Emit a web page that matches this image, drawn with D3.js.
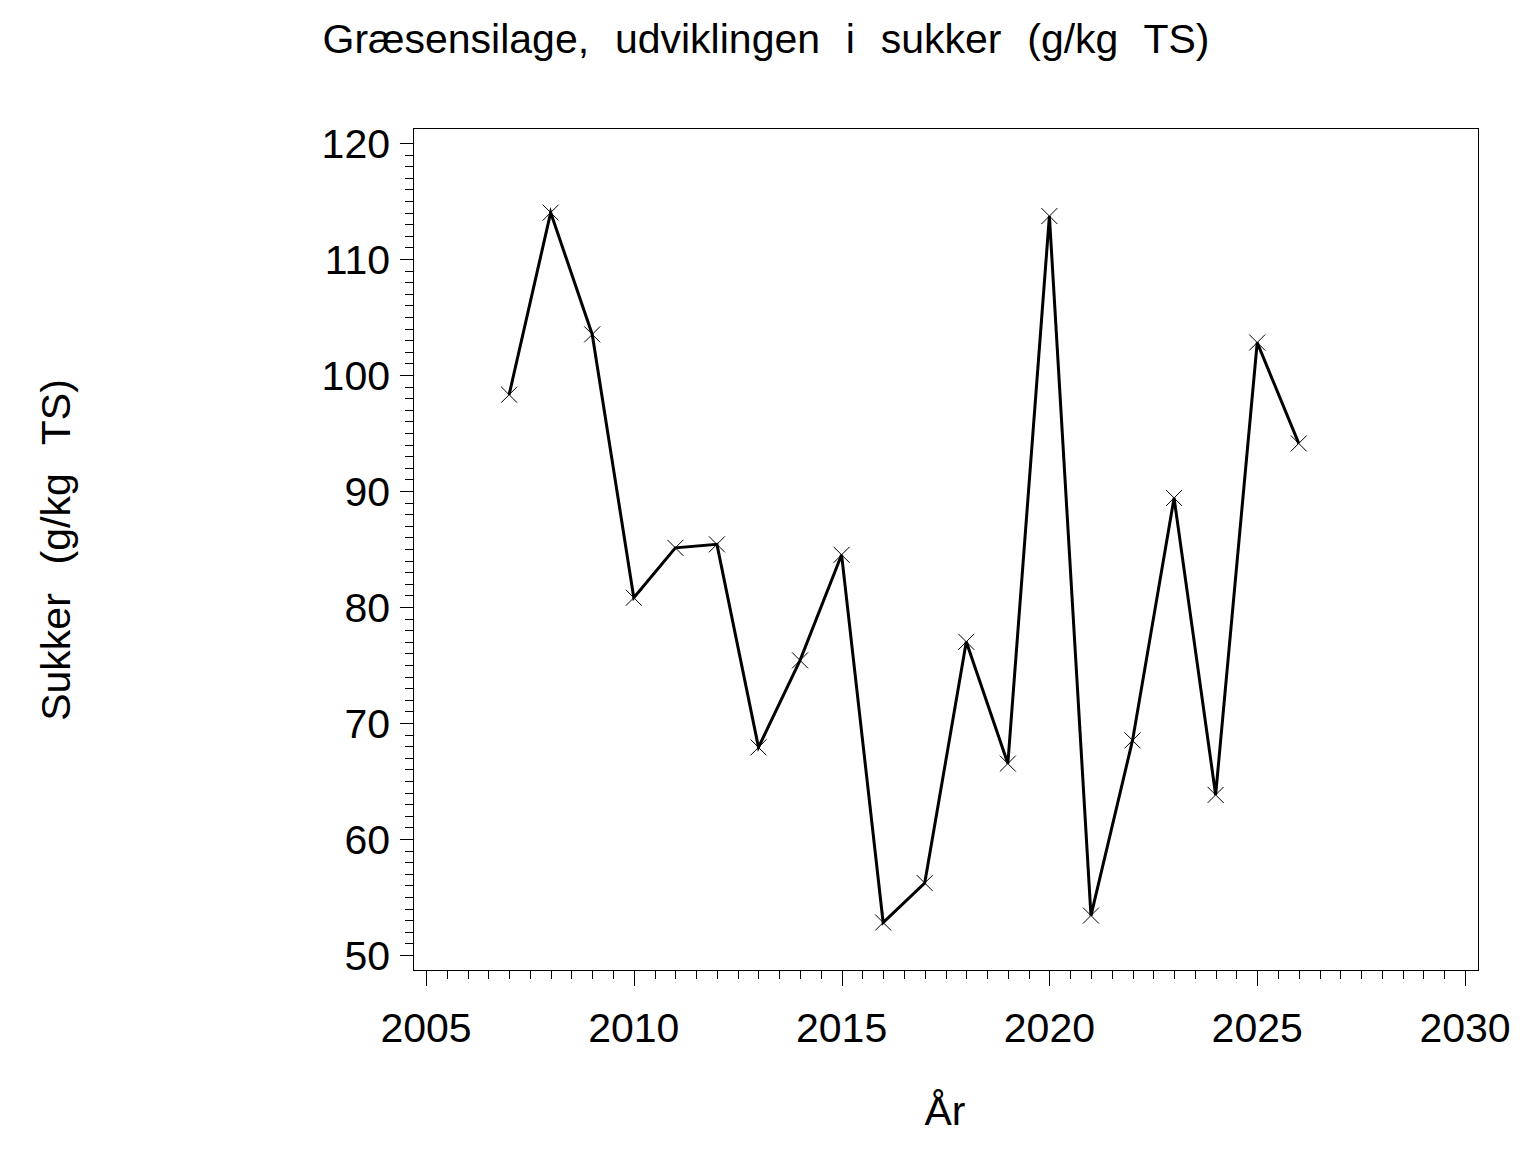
<!DOCTYPE html>
<html>
<head>
<meta charset="utf-8">
<script src="https://cdn.jsdelivr.net/npm/d3@7"></script>
<style>
  body { margin: 0; background: #fff; }
  text { font-family: "Liberation Sans", Arial, sans-serif; fill: #000; }
</style>
</head>
<body>
<div id="chart"></div>
<script>
// data
const years = [2007, 2008, 2009, 2010, 2011, 2012, 2013, 2014, 2015, 2016,
               2017, 2018, 2019, 2020, 2021, 2022, 2023, 2024, 2025, 2026];
const sukker = [98.3, 114.0, 103.5, 80.8, 85.1, 85.4, 67.9, 75.4, 84.5, 52.8,
                56.2, 77.0, 66.5, 113.7, 53.4, 68.5, 89.4, 63.8, 102.8, 94.1];
const yTicks = [50, 60, 70, 80, 90, 100, 110, 120];
const xTicks = [2005, 2010, 2015, 2020, 2025, 2030];

const title = "Græsensilage,  udviklingen  i  sukker  (g/kg  TS)";
const yLabel = "Sukker  (g/kg  TS)";
const xLabel = "År";

const width = 1536, height = 1152;
const frame = {left: 413, right: 1478, top: 128, bottom: 970};

const svg = d3.select("#chart").append("svg")
    .attr("width", width)
    .attr("height", height);

let x = d3.scaleLinear().domain([2005, 2030]).range([426, 1465]);
let y = d3.scaleLinear().domain([50, 120]).range([955, 143]);

const data = years.map((d, i) => ({year: d, val: sukker[i]}));

// frame
svg.append("rect")
    .attr("x", frame.left + 0.5)
    .attr("y", frame.top + 0.5)
    .attr("width", frame.right - frame.left)
    .attr("height", frame.bottom - frame.top)
    .attr("fill", "none")
    .attr("stroke", "#000")
    .attr("stroke-width", 1);

// y axis ticks, minor every 1
let yMinor = d3.range(50, 120.001, 1);
svg.append("g").selectAll("line")
    .data(yMinor)
    .enter().append("line")
      .attr("x1", d => d % 10 === 0 ? frame.left - 13 : frame.left - 8)
      .attr("x2", frame.left)
      .attr("y1", d => Math.round(y(d)) + 0.5)
      .attr("y2", d => Math.round(y(d)) + 0.5)
      .attr("stroke", "#000");

svg.append("g").selectAll("text")
    .data(yTicks)
    .enter().append("text")
      .attr("x", 390)
      .attr("y", d => y(d))
      .attr("dy", "0.36em")
      .attr("text-anchor", "end")
      .style("font-size", "41px")
      .text(d => d);

// x axis ticks, minor every half year
let xMinor = d3.range(2005, 2030.001, 0.5);
svg.append("g").selectAll("line")
    .data(xMinor)
    .enter().append("line")
      .attr("x1", d => Math.round(x(d)) + 0.5)
      .attr("x2", d => Math.round(x(d)) + 0.5)
      .attr("y1", frame.bottom)
      .attr("y2", d => d % 5 === 0 ? frame.bottom + 16 : frame.bottom + 9)
      .attr("stroke", "#000");

svg.append("g").selectAll("text")
    .data(xTicks)
    .enter().append("text")
      .attr("x", d => x(d))
      .attr("y", 1042)
      .attr("text-anchor", "middle")
      .style("font-size", "41px")
      .text(d => d);

// line
let line = d3.line()
    .x(d => x(d.year))
    .y(d => y(d.val));

svg.append("path")
    .datum(data)
    .attr("d", line)
    .attr("fill", "none")
    .attr("stroke", "#000")
    .attr("stroke-width", 3)
    .attr("stroke-linejoin", "miter");

// x markers
let s = 8;
svg.append("g")
    .attr("stroke", "#000")
    .attr("stroke-width", 1)
    .selectAll("path")
    .data(data)
    .enter().append("path")
      .attr("d", d => {
        let cx = x(d.year), cy = y(d.val);
        return `M${cx - s},${cy - s}L${cx + s},${cy + s}M${cx - s},${cy + s}L${cx + s},${cy - s}`;
      })
      .attr("fill", "none");

// titles
svg.append("text")
    .attr("x", 766)
    .attr("y", 53)
    .attr("text-anchor", "middle")
    .style("font-size", "41px")
    .style("word-spacing", "1.5px")
    .style("white-space", "pre")
    .text(title);

svg.append("text")
    .attr("transform", "translate(70,550) rotate(-90)")
    .attr("text-anchor", "middle")
    .style("font-size", "41px")
    .style("word-spacing", "3px")
    .style("white-space", "pre")
    .text(yLabel);

svg.append("text")
    .attr("x", 945)
    .attr("y", 1125)
    .attr("text-anchor", "middle")
    .style("font-size", "41px")
    .text(xLabel);
</script>
</body>
</html>
